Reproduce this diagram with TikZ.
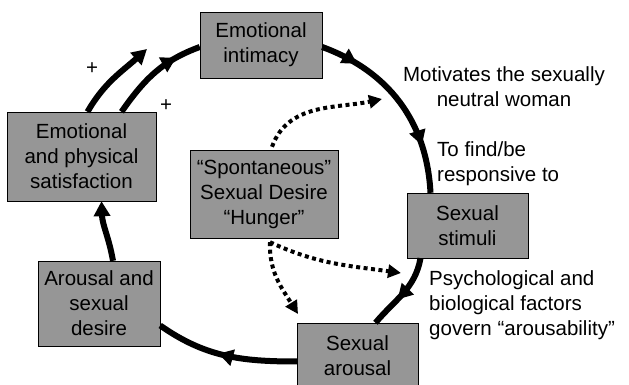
\documentclass[tikz,border=0pt]{standalone}
\usepackage{fontspec}
\setmainfont{Liberation Sans}
\usetikzlibrary{arrows.meta,decorations.markings}
\definecolor{boxgray}{RGB}{150,150,150}
\tikzset{stage/.style={rectangle,draw=black,thin,fill=boxgray,align=center,inner sep=0pt,
  font=\fontsize{20.5}{25}\selectfont}}
\tikzset{note/.style={align=left,inner sep=0pt,font=\fontsize{20.5}{25}\selectfont}}
\tikzset{cycle/.style={line width=6pt}}
\tikzset{hint/.style={line width=4pt,dash pattern=on 4pt off 3.5pt,-{Triangle[length=13pt,width=13pt]}}}
\tikzset{midarrow/.style={postaction={decorate},decoration={markings,
  mark=at position #1 with {\arrow{Triangle[length=15pt,width=16pt]}}}}}
\tikzset{twoarrows/.style 2 args={postaction={decorate},decoration={markings,
  mark=at position #1 with {\arrow{Triangle[length=15pt,width=16pt]}},
  mark=at position #2 with {\arrow{Triangle[length=15pt,width=16pt]}}}}}

\begin{document}
\begin{tikzpicture}[x=1pt,y=1pt]
\useasboundingbox (0,0) rectangle (629,385);
% the stages of the cycle
\node (intim) [stage,minimum width=122pt,minimum height=66pt] at (261,340) {Emotional\\intimacy};
\node (satis) [stage,minimum width=149pt,minimum height=89pt] at (81.5,228.5) {Emotional\\and physical\\satisfaction};
\node (spont) [stage,minimum width=148pt,minimum height=88pt] at (264,191) {``Spontaneous''\\Sexual Desire\\``Hunger''};
\node (stim) [stage,minimum width=121pt,minimum height=65pt] at (467.5,159.5) {Sexual\\stimuli};
\node (arous) [stage,minimum width=121pt,minimum height=65pt] at (357.5,29.5) {Sexual\\arousal};
\node (desire) [stage,minimum width=122pt,minimum height=85pt] at (99,81.5) {Arousal and\\sexual\\desire};
%
\node (motiv) [note,align=center] at (504,298) {Motivates the sexually\\neutral woman};
\node (find) [note,anchor=west] at (437,221) {To find/be\\responsive to};
\node (factors) [note,anchor=west] at (429,80) {Psychological and\\biological factors\\govern ``arousability''};
\node (plusa) [font=\fontsize{20.5}{25}\selectfont] at (92,316) {+};
\node (plusb) [font=\fontsize{20.5}{25}\selectfont] at (166,279) {+};
%
\coordinate (tipa) at (382,286);
\coordinate (tipb) at (401,112);
\coordinate (tipc) at (298,71);
\coordinate (tipd) at (147,336);
% main cycle
\draw[cycle,twoarrows={0.2}{0.75}] ([yshift=-2pt]intim.east) to[out=-20,in=93] ([xshift=-37pt]stim.north);
\draw[cycle,midarrow=0.6] ([xshift=-47pt]stim.south) to[out=-100,in=50] ([xshift=18pt]arous.north);
\draw[cycle,midarrow=0.55] ([yshift=-6pt]arous.west) to[out=180,in=-35] ([yshift=-22pt]desire.east);
\draw[cycle,-{Triangle[length=15pt,width=16pt]}] ([xshift=14pt]desire.north) to[out=100,in=-88] ([xshift=20pt]satis.south);
\draw[cycle,-{Triangle[length=15pt,width=16pt]}] ([xshift=6pt]satis.north) to[out=60,in=-138] (tipd);
\draw[cycle,midarrow=0.75] ([xshift=40pt]satis.north) to[out=55,in=200] ([yshift=-2pt]intim.west);
% spontaneous desire
\draw[hint] ([xshift=8pt,yshift=3pt]spont.north) to[out=70,in=192] (tipa);
\draw[hint] ([xshift=6pt,yshift=-4pt]spont.south) to[out=-25,in=172] (tipb);
\draw[hint] ([xshift=6pt,yshift=-4pt]spont.south) to[out=-92,in=122] (tipc);
\end{tikzpicture}
\end{document}
